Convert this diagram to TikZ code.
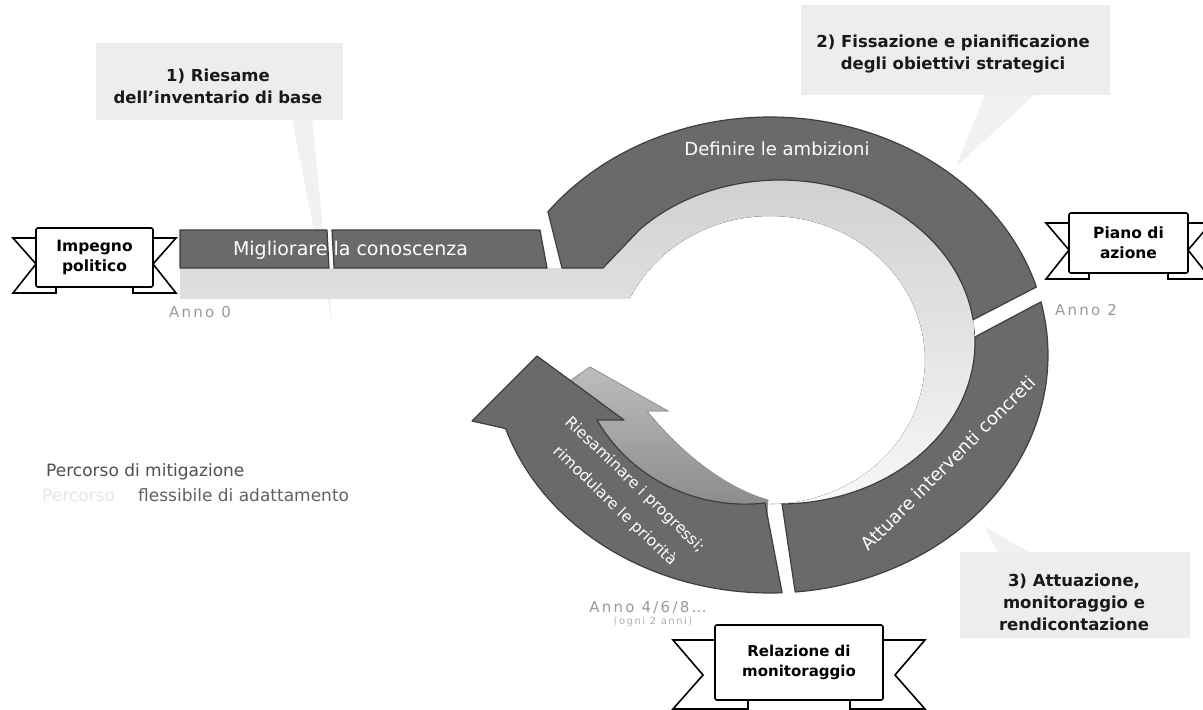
\documentclass[tikz,border=0pt]{standalone}
\usepackage{fontspec}
\setmainfont{DejaVu Sans}
\newfontfamily\spacedfont[LetterSpace=15]{DejaVu Sans}
\definecolor{ringdark}{HTML}{6A6A6A}
\definecolor{ringedge}{HTML}{3E3E3E}
\definecolor{calloutbg}{HTML}{EDEDED}
\definecolor{pointerbg}{HTML}{F1F1F1}
\definecolor{annogrey}{HTML}{9A9A9A}
\definecolor{legendgrey}{HTML}{505050}
\definecolor{faintgrey}{HTML}{E6E6E6}
\tikzset{
 darkseg/.style={fill=ringdark, draw=ringedge, line width=1.2pt, line join=round},
 callout/.style={fill=calloutbg, draw=none},
 pointer/.style={fill=pointerbg, draw=none},
 callouttext/.style={font=\bfseries\fontsize{16.5}{22}\selectfont, align=center, text=black!90},
 ribbonbox/.style={draw=black, line width=1.6pt, fill=white, rounded corners=2pt, align=center, font=\bfseries\fontsize{15.5}{20}\selectfont, inner sep=0pt},
 ribbontail/.style={draw=black, line width=1.6pt, fill=white, line join=miter},
 annolabel/.style={text=annogrey, font=\spacedfont\fontsize{15}{18}\selectfont},
 ringlabel/.style={text=white, font=\fontsize{18}{20}\selectfont},
 legend/.style={anchor=west, font=\fontsize{17}{20}\selectfont, inner sep=0pt},
}
\begin{document}
\begin{tikzpicture}[x=1pt,y=-1pt]
\useasboundingbox (0,0) rectangle (1203,710);
\clip (0,0) rectangle (1203,710);
\fill[white] (0,0) rectangle (1203,710);

% callouts
\fill[pointer] (292,119) -- (312,119) -- (332,322) -- cycle;
\fill[callout] (96,43) rectangle (343,120);
\fill[pointer] (985,94) -- (1035,94) -- (956,167) -- cycle;
\fill[callout] (801,5) rectangle (1110,95);
\fill[pointer] (998,553) -- (1030,553) -- (984,526) -- cycle;
\fill[callout] (960,552) rectangle (1190,638);
\node[callouttext] (c1) at (218,86) {1) Riesame\\dell'inventario di base};
\node[callouttext] (c2) at (953,54) {2) Fissazione e pianificazione\\degli obiettivi strategici};
\node[callouttext] (c3) at (1074,602) {3) Attuazione,\\monitoraggio e\\rendicontazione};

% light inner band
\fill[top color=black!18, bottom color=black!3]
  (180,268) -- (603,268) -- (637,227)
  -- plot[domain=-135.9:89.4, samples=80, variable=\t] ({780+195*cos(\t)}, {342+162*sin(\t)})
  -- plot[domain=90:-154.5, samples=80, variable=\t] ({770+155*cos(\t)}, {360+144*sin(\t)})
  -- (180,298) -- cycle;

% light arrow
\filldraw[top color=black!26, bottom color=black!50, draw=black!42, line width=0.8pt]
  (590,367) -- (668,411) -- (647,411) .. controls (680,452) and (725,488) .. (768,500)
  -- (765,540) -- (680,540) -- (560,445) -- (535,405) -- cycle;

% dark bar
\filldraw[darkseg] (180,230) -- (327,230) -- (329,268) -- (180,268) -- cycle;
\filldraw[darkseg] (332,230) -- (540,230) -- (547,268) -- (334,268) -- cycle;

% dark ring top segment
\filldraw[darkseg] (562,268) -- (548,212)
  -- plot[domain=-143:-16.6, samples=90, variable=\t] ({770+278*cos(\t)}, {355+238*sin(\t)})
  -- plot[domain=-7.9:-135.9, samples=90, variable=\t] ({780+195*cos(\t)}, {342+162*sin(\t)})
  -- (603,268) -- cycle;

% dark ring right segment
\filldraw[darkseg]
  plot[domain=-12.9:84.8, samples=90, variable=\t] ({770+278*cos(\t)}, {355+238*sin(\t)})
  -- plot[domain=89.4:-1.8, samples=90, variable=\t] ({780+195*cos(\t)}, {342+162*sin(\t)})
  -- cycle;

% dark arrow
\filldraw[darkseg] (765,503)
  -- plot[domain=87.5:162, samples=80, variable=\t] ({770+278*cos(\t)}, {355+238*sin(\t)})
  -- (472,421) -- (537,356) -- (624,420) -- (597,420)
  .. controls (635,485) and (705,510) .. (765,503) -- cycle;

% ring labels
\node[ringlabel, font=\fontsize{19}{21}\selectfont] (t1) at (350.5,250) {Migliorare la conoscenza};
\node[ringlabel] (t2) at (777,149) {Definire le ambizioni};
\node[ringlabel, rotate=45] (t3) at (948,463) {Attuare interventi concreti};
\node[ringlabel, rotate=-44, font=\fontsize{15.5}{18}\selectfont] (t4a) at (635,485) {Riesaminare i progressi;};
\node[ringlabel, rotate=-44, font=\fontsize{15.5}{18}\selectfont] (t4b) at (615,506) {rimodulare le priorità};

% year labels
\node[annolabel] (a0) at (200,312) {Anno 0};
\node[annolabel] (a2) at (1086,310) {Anno 2};
\node[annolabel] (a4) at (648,608) {Anno 4/6/8…};
\node[annolabel, font=\spacedfont\fontsize{10}{12}\selectfont, text=black!30] (a4b) at (653,622) {(ogni 2 anni)};

% legend
\node[legend, text=legendgrey] (l1) at (46,472) {Percorso di mitigazione};
\node[legend, text=faintgrey] (l2a) at (42,495) {Percorso};
\node[legend, text=black!62] (l2b) at (138,495) {flessibile di adattamento};

% ribbons
\draw[ribbontail] (56,238) -- (13,238) -- (36,264) -- (13,293) -- (56,293) -- cycle;
\draw[ribbontail] (133,238) -- (176,238) -- (153,264) -- (176,293) -- (133,293) -- cycle;
\node[ribbonbox, minimum width=117pt, minimum height=59pt] (r1) at (94.5,257.5) {Impegno\\politico};

\draw[ribbontail] (1089,223) -- (1046,223) -- (1069,250) -- (1046,279) -- (1089,279) -- cycle;
\draw[ribbontail] (1168,223) -- (1211,223) -- (1188,250) -- (1211,279) -- (1168,279) -- cycle;
\node[ribbonbox, minimum width=119pt, minimum height=60pt] (r2) at (1128.5,243) {Piano di\\azione};

\draw[ribbontail] (748,640) -- (673,640) -- (703,675) -- (673,709) -- (748,709) -- cycle;
\draw[ribbontail] (850,640) -- (925,640) -- (895,675) -- (925,709) -- (850,709) -- cycle;
\node[ribbonbox, minimum width=168pt, minimum height=75pt, font=\bfseries\fontsize{15}{20}\selectfont] (r3) at (799,662.5) {Relazione di\\monitoraggio};
\end{tikzpicture}
\end{document}
